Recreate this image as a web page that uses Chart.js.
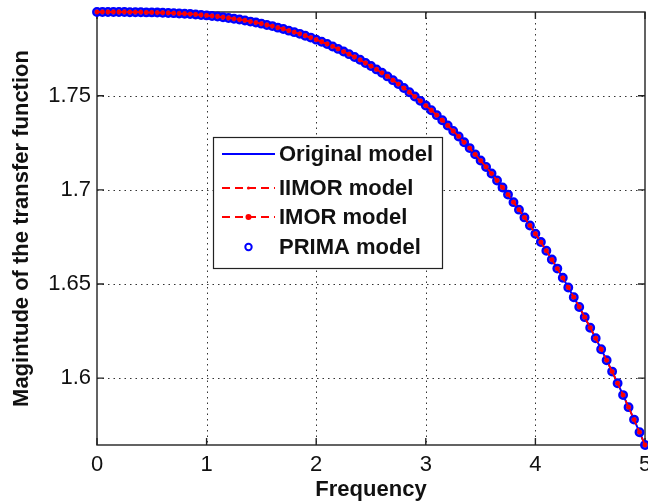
<!DOCTYPE html>
<html>
<head>
<meta charset="utf-8">
<script src="https://cdn.jsdelivr.net/npm/chart.js@4/dist/chart.umd.min.js"></script>
<style>
  html, body { margin: 0; padding: 0; background: #fff; }
</style>
</head>
<body>
<canvas id="myChart" width="648" height="504"></canvas>
<script>
// frequency samples (x)
let freq = [
  0, 0.05, 0.1, 0.15, 0.2, 0.25, 0.3, 0.35, 0.4, 0.45,
  0.5, 0.55, 0.6, 0.65, 0.7, 0.75, 0.8, 0.85, 0.9, 0.95,
  1, 1.05, 1.1, 1.15, 1.2, 1.25, 1.3, 1.35, 1.4, 1.45,
  1.5, 1.55, 1.6, 1.65, 1.7, 1.75, 1.8, 1.85, 1.9, 1.95,
  2, 2.05, 2.1, 2.15, 2.2, 2.25, 2.3, 2.35, 2.4, 2.45,
  2.5, 2.55, 2.6, 2.65, 2.7, 2.75, 2.8, 2.85, 2.9, 2.95,
  3, 3.05, 3.1, 3.15, 3.2, 3.25, 3.3, 3.35, 3.4, 3.45,
  3.5, 3.55, 3.6, 3.65, 3.7, 3.75, 3.8, 3.85, 3.9, 3.95,
  4, 4.05, 4.1, 4.15, 4.2, 4.25, 4.3, 4.35, 4.4, 4.45,
  4.5, 4.55, 4.6, 4.65, 4.7, 4.75, 4.8, 4.85, 4.9, 4.95,
  5
];

// magnitude
let originalModel = [
  1.7945, 1.7945, 1.7945, 1.7945, 1.7945, 1.7945, 1.7944, 1.7944, 1.7944, 1.7943,
  1.7943, 1.7942, 1.7941, 1.7940, 1.7939, 1.7937, 1.7936, 1.7934, 1.7932, 1.7929,
  1.7927, 1.7924, 1.7921, 1.7917, 1.7913, 1.7909, 1.7905, 1.7900, 1.7894, 1.7889,
  1.7883, 1.7876, 1.7870, 1.7862, 1.7855, 1.7846, 1.7838, 1.7829, 1.7819, 1.7809,
  1.7798, 1.7787, 1.7775, 1.7762, 1.7749, 1.7735, 1.7721, 1.7706, 1.7691, 1.7674,
  1.7658, 1.7640, 1.7622, 1.7603, 1.7583, 1.7562, 1.7541, 1.7519, 1.7496, 1.7473,
  1.7448, 1.7423, 1.7397, 1.7370, 1.7342, 1.7313, 1.7284, 1.7253, 1.7222, 1.7189,
  1.7156, 1.7122, 1.7087, 1.7050, 1.7013, 1.6975, 1.6935, 1.6895, 1.6854, 1.6811,
  1.6767, 1.6723, 1.6677, 1.6630, 1.6582, 1.6533, 1.6482, 1.6430, 1.6378, 1.6324,
  1.6268, 1.6212, 1.6154, 1.6095, 1.6035, 1.5973, 1.5910, 1.5846, 1.5780, 1.5713,
  1.5645
];
// the reduced models lie on top of the original one in the picture
let iimorModel = originalModel.slice();
let imorModel = originalModel.slice();
let primaModel = originalModel.slice();

let xTicks = [0, 1, 2, 3, 4, 5];
let yTicks = [1.6, 1.65, 1.7, 1.75];
let yTickLabels = ['1.6', '1.65', '1.7', '1.75'];

const FONT = '"Liberation Sans", Arial, Helvetica, sans-serif';

function points(ys) {
  return freq.map((f, i) => ({ x: f, y: ys[i] }));
}

let legendRows = [
  { text: 'Original model', y: 154 },
  { text: 'IIMOR model', y: 188 },
  { text: 'IMOR model', y: 217 },
  { text: 'PRIMA model', y: 247 }
];

const framePlugin = {
  id: 'frame',
  beforeDatasetsDraw(chart) {
    const { ctx, chartArea: a, scales: { x, y } } = chart;
    ctx.save();
    // dotted grid
    ctx.strokeStyle = '#333';
    ctx.lineWidth = 1;
    ctx.setLineDash([1.5, 4]);
    xTicks.slice(1, -1).forEach(v => {
      const px = Math.round(x.getPixelForValue(v)) + 0.5;
      ctx.beginPath(); ctx.moveTo(px, a.top); ctx.lineTo(px, a.bottom); ctx.stroke();
    });
    yTicks.forEach(v => {
      const py = Math.round(y.getPixelForValue(v)) + 0.5;
      ctx.beginPath(); ctx.moveTo(a.left, py); ctx.lineTo(a.right, py); ctx.stroke();
    });
    // box and inside ticks
    ctx.setLineDash([]);
    ctx.strokeStyle = '#222';
    ctx.lineWidth = 1.4;
    ctx.strokeRect(a.left, a.top, a.right - a.left, a.bottom - a.top);
    const tl = 7;
    xTicks.forEach(v => {
      const px = x.getPixelForValue(v);
      ctx.beginPath();
      ctx.moveTo(px, a.bottom); ctx.lineTo(px, a.bottom - tl);
      ctx.moveTo(px, a.top); ctx.lineTo(px, a.top + tl);
      ctx.stroke();
    });
    yTicks.forEach(v => {
      const py = y.getPixelForValue(v);
      ctx.beginPath();
      ctx.moveTo(a.left, py); ctx.lineTo(a.left + tl, py);
      ctx.moveTo(a.right, py); ctx.lineTo(a.right - tl, py);
      ctx.stroke();
    });
    ctx.restore();
  },
  afterDraw(chart) {
    const ctx = chart.ctx;
    ctx.save();
    // legend box
    ctx.fillStyle = '#fff';
    ctx.fillRect(213, 137, 229, 131);
    ctx.strokeStyle = '#222';
    ctx.lineWidth = 1.2;
    ctx.strokeRect(213.5, 137.5, 229, 131);

    const x0 = 222, x1 = 275, xm = 248.5;
    legendRows.forEach((row, i) => {
      const yy = row.y;
      ctx.setLineDash([]);
      if (i === 0) {
        ctx.strokeStyle = '#0000ff'; ctx.lineWidth = 2;
        ctx.beginPath(); ctx.moveTo(x0, yy); ctx.lineTo(x1, yy); ctx.stroke();
      } else if (i === 1 || i === 2) {
        ctx.strokeStyle = '#ff0000'; ctx.lineWidth = 1.8;
        ctx.setLineDash([8, 5]);
        ctx.beginPath(); ctx.moveTo(x0, yy); ctx.lineTo(x1, yy); ctx.stroke();
        ctx.setLineDash([]);
        ctx.fillStyle = '#ff0000';
        ctx.beginPath(); ctx.arc(xm, yy, i === 1 ? 1.6 : 3, 0, Math.PI * 2); ctx.fill();
      } else {
        ctx.strokeStyle = '#0000ff'; ctx.lineWidth = 2;
        ctx.beginPath(); ctx.arc(xm, yy, 3.2, 0, Math.PI * 2); ctx.stroke();
      }
      ctx.fillStyle = '#111';
      ctx.font = 'bold 22px ' + FONT;
      ctx.textAlign = 'left';
      ctx.textBaseline = 'middle';
      ctx.fillText(row.text, 279, yy + 1);
    });
    ctx.restore();
  }
};

let ctx = document.getElementById('myChart').getContext('2d');

let magChart = new Chart(ctx, {
  type: 'line',
  data: {
    datasets: [
      {
        label: 'Original model',
        data: points(originalModel),
        borderColor: '#0000ff',
        borderWidth: 2,
        pointRadius: 0,
        clip: 8,
        order: 4
      },
      {
        label: 'IIMOR model',
        data: points(iimorModel),
        borderColor: '#ff0000',
        borderWidth: 1.5,
        borderDash: [6, 4],
        pointRadius: 1.4,
        pointBorderWidth: 0,
        pointBackgroundColor: '#ff0000',
        clip: 8,
        order: 2
      },
      {
        label: 'IMOR model',
        data: points(imorModel),
        borderColor: '#ff0000',
        borderWidth: 1.5,
        borderDash: [6, 4],
        pointRadius: 2.4,
        pointBorderWidth: 0,
        pointBackgroundColor: '#ff0000',
        clip: 8,
        order: 1
      },
      {
        label: 'PRIMA model',
        data: points(primaModel),
        showLine: false,
        pointRadius: 3.8,
        pointBorderWidth: 2.3,
        pointBorderColor: '#0000ff',
        pointBackgroundColor: 'rgba(40,20,220,0.8)',
        clip: 8,
        order: 3
      }
    ]
  },
  options: {
    responsive: false,
    animation: false,
    layout: { autoPadding: false, padding: { left: 0, right: 3, top: 12, bottom: 0 } },
    plugins: {
      legend: { display: false },
      tooltip: { enabled: false }
    },
    scales: {
      x: {
        type: 'linear',
        min: 0,
        max: 5,
        grid: { display: false, drawTicks: false },
        border: { display: false },
        afterBuildTicks: s => { s.ticks = xTicks.map(v => ({ value: v })); },
        afterFit: s => { s.height = 59; s.paddingLeft = 0; s.paddingRight = 0; },
        ticks: {
          color: '#111',
          padding: 7,
          maxRotation: 0,
          font: { family: FONT, size: 22 }
        },
        title: {
          display: true,
          text: 'Frequency',
          color: '#111',
          padding: { top: 0, bottom: 1 },
          font: { family: FONT, size: 22, weight: 'bold' }
        }
      },
      y: {
        type: 'linear',
        min: Math.min(...originalModel),
        max: Math.max(...originalModel),
        grid: { display: false, drawTicks: false },
        border: { display: false },
        afterBuildTicks: s => { s.ticks = yTicks.map(v => ({ value: v })); },
        afterFit: s => { s.width = 97; s.paddingTop = 0; s.paddingBottom = 0; },
        ticks: {
          color: '#111',
          padding: 6,
          font: { family: FONT, size: 22 },
          callback: (v, i) => yTickLabels[i]
        },
        title: {
          display: true,
          text: 'Magintude of the transfer function',
          color: '#111',
          padding: { top: 9, bottom: 0 },
          font: { family: FONT, size: 22, weight: 'bold' }
        }
      }
    }
  },
  plugins: [framePlugin]
});
</script>
</body>
</html>
